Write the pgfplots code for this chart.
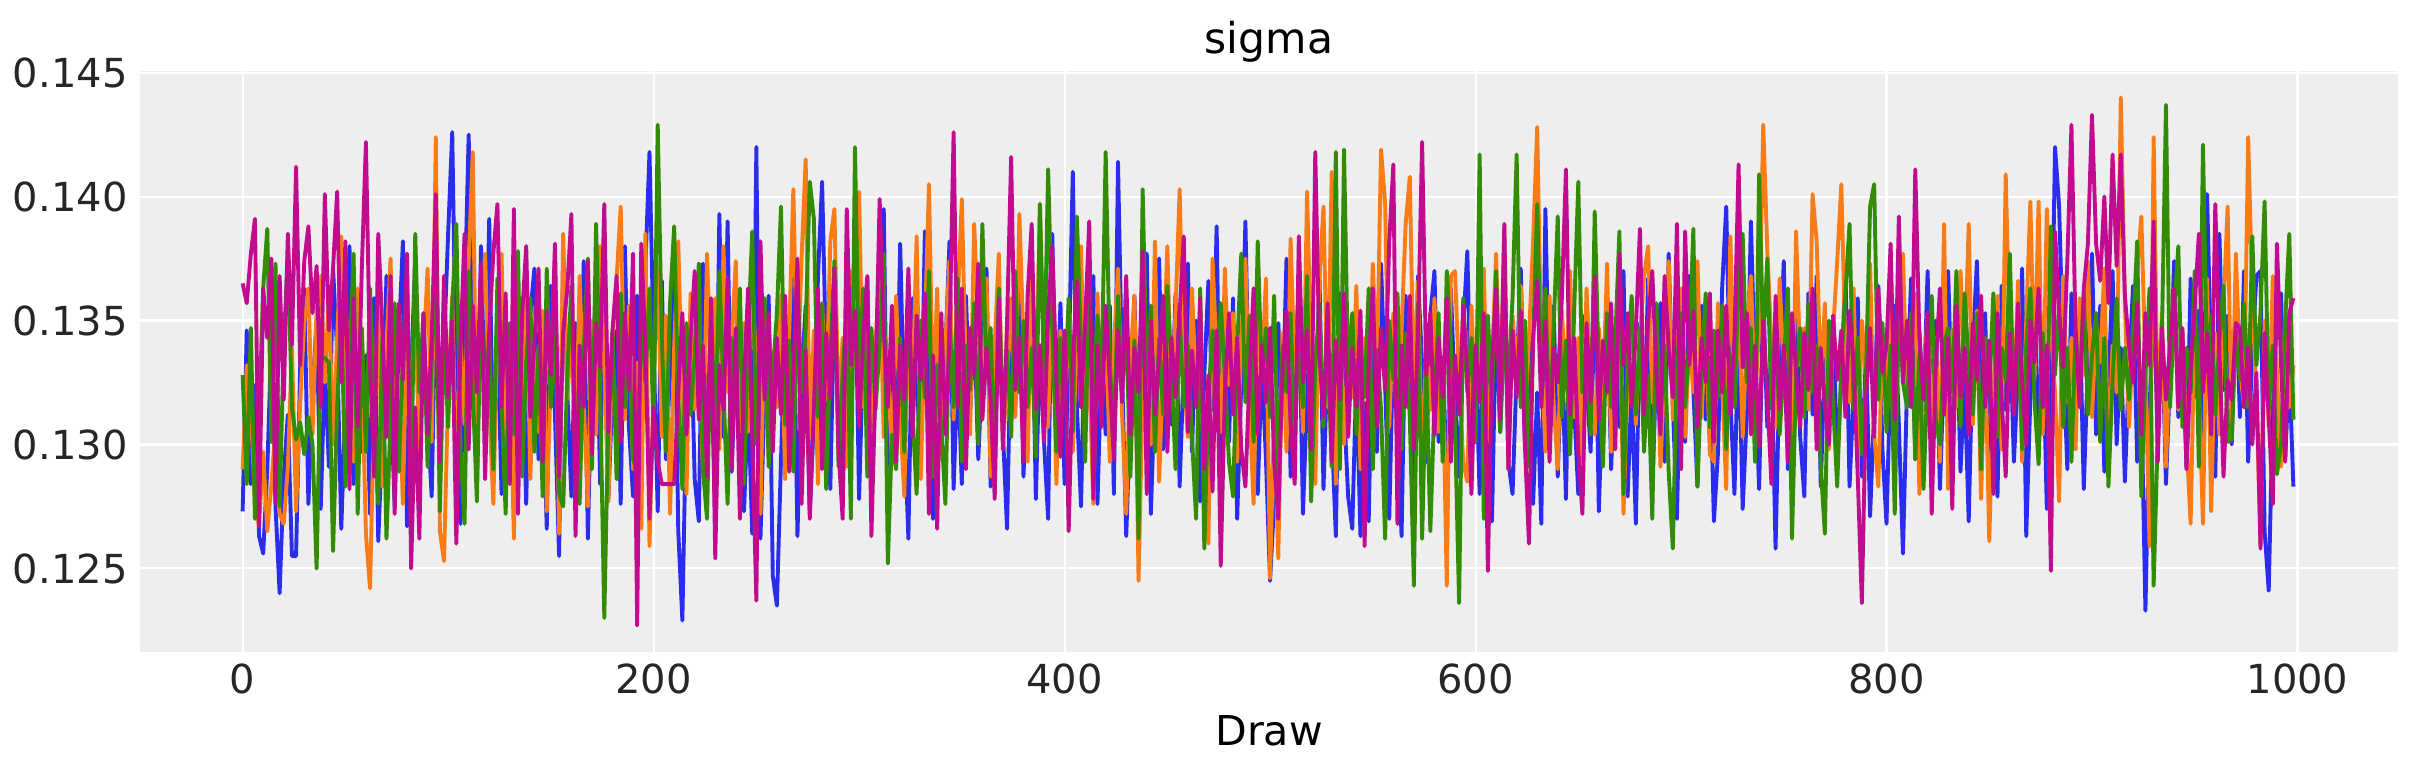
\documentclass[border=0pt]{standalone}
\usepackage{fontspec}
\setmainfont{DejaVu Sans}
\usepackage{pgfplots}
\usepackage{pgfplotstable}
\pgfplotsset{compat=1.18}
\definecolor{cB}{HTML}{2A2EEC}
\definecolor{cO}{HTML}{FA7C17}
\definecolor{cG}{HTML}{328C06}
\definecolor{cM}{HTML}{C10C90}
\definecolor{bg}{HTML}{EEEEEE}
\definecolor{tickc}{HTML}{262626}
% values in units of 0.0001, one per draw 0,2,4,...,998
\pgfplotstableread[header=false,row sep=\\]{%
1273\\1346\\1284\\1324\\1263\\1256\\1290\\1343\\1275\\1240\\%
1287\\1312\\1255\\1255\\1331\\1363\\1276\\1321\\1350\\1274\\%
1332\\1291\\1371\\1338\\1266\\1315\\1380\\1284\\1353\\1297\\%
1336\\1272\\1359\\1261\\1304\\1368\\1321\\1275\\1343\\1382\\%
1267\\1329\\1375\\1291\\1349\\1310\\1279\\1364\\1298\\1340\\%
1385\\1426\\1321\\1268\\1356\\1425\\1339\\1283\\1380\\1312\\%
1391\\1289\\1347\\1280\\1324\\1290\\1370\\1301\\1336\\1276\\%
1353\\1371\\1294\\1328\\1266\\1364\\1312\\1255\\1377\\1321\\%
1279\\1349\\1300\\1374\\1262\\1333\\1361\\1284\\1385\\1278\\%
1322\\1346\\1276\\1380\\1307\\1279\\1360\\1319\\1372\\1418\\%
1340\\1273\\1366\\1294\\1328\\1377\\1265\\1229\\1319\\1353\\%
1286\\1269\\1373\\1310\\1336\\1270\\1393\\1303\\1390\\1289\\%
1335\\1357\\1273\\1318\\1264\\1420\\1262\\1321\\1360\\1247\\%
1235\\1294\\1347\\1303\\1370\\1263\\1326\\1356\\1272\\1311\\%
1368\\1406\\1332\\1282\\1361\\1314\\1278\\1350\\1298\\1377\\%
1278\\1338\\1367\\1284\\1321\\1352\\1395\\1275\\1343\\1298\\%
1381\\1308\\1262\\1359\\1326\\1293\\1386\\1318\\1270\\1353\\%
1303\\1338\\1382\\1282\\1332\\1284\\1360\\1312\\1350\\1294\\%
1333\\1371\\1283\\1322\\1357\\1305\\1266\\1349\\1315\\1366\\%
1287\\1331\\1374\\1278\\1340\\1301\\1270\\1385\\1311\\1357\\%
1284\\1332\\1410\\1315\\1275\\1352\\1322\\1368\\1276\\1335\\%
1304\\1356\\1280\\1414\\1328\\1263\\1312\\1360\\1290\\1339\\%
1377\\1272\\1325\\1375\\1298\\1345\\1308\\1361\\1283\\1332\\%
1373\\1297\\1350\\1277\\1328\\1366\\1314\\1388\\1282\\1336\\%
1301\\1359\\1270\\1325\\1390\\1307\\1352\\1280\\1333\\1294\\%
1245\\1277\\1349\\1312\\1375\\1287\\1332\\1363\\1272\\1319\\%
1354\\1298\\1370\\1282\\1336\\1307\\1263\\1361\\1315\\1279\\%
1266\\1328\\1263\\1317\\1269\\1353\\1297\\1373\\1324\\1270\\%
1342\\1305\\1263\\1360\\1315\\1284\\1368\\1332\\1293\\1352\\%
1370\\1301\\1335\\1272\\1363\\1317\\1287\\1347\\1378\\1307\\%
1336\\1280\\1359\\1322\\1269\\1353\\1305\\1368\\1293\\1280\\%
1329\\1371\\1301\\1345\\1276\\1321\\1268\\1395\\1310\\1356\\%
1287\\1338\\1278\\1363\\1315\\1280\\1352\\1326\\1297\\1374\\%
1273\\1328\\1361\\1290\\1339\\1307\\1370\\1279\\1322\\1268\\%
1349\\1303\\1367\\1282\\1332\\1357\\1293\\1377\\1317\\1270\\%
1345\\1301\\1368\\1322\\1283\\1356\\1310\\1335\\1269\\1297\\%
1363\\1396\\1319\\1280\\1347\\1274\\1312\\1390\\1329\\1282\\%
1360\\1307\\1338\\1258\\1332\\1374\\1290\\1322\\1353\\1303\\%
1279\\1361\\1312\\1368\\1283\\1336\\1305\\1352\\1293\\1326\\%
1371\\1283\\1321\\1359\\1287\\1338\\1271\\1314\\1364\\1298\\%
1268\\1332\\1356\\1308\\1256\\1324\\1367\\1294\\1346\\1314\\%
1370\\1303\\1350\\1282\\1332\\1370\\1310\\1354\\1289\\1325\\%
1269\\1340\\1374\\1305\\1353\\1284\\1321\\1279\\1364\\1314\\%
1349\\1293\\1329\\1371\\1263\\1319\\1360\\1303\\1347\\1274\\%
1315\\1420\\1396\\1336\\1290\\1361\\1315\\1353\\1282\\1333\\%
1377\\1304\\1356\\1289\\1322\\1370\\1300\\1339\\1285\\1331\\%
1364\\1293\\1319\\1233\\1314\\1359\\1303\\1349\\1284\\1328\\%
1374\\1311\\1342\\1290\\1367\\1319\\1354\\1298\\1401\\1331\\%
1287\\1385\\1322\\1352\\1300\\1361\\1311\\1370\\1293\\1338\\%
1368\\1370\\1265\\1241\\1315\\1350\\1361\\1294\\1331\\1283\\%
}\tB
\pgfplotstableread[header=false,row sep=\\]{%
1290\\1332\\1315\\1276\\1267\\1297\\1265\\1284\\1307\\1272\\%
1268\\1291\\1339\\1273\\1317\\1349\\1363\\1304\\1354\\1368\\%
1325\\1360\\1300\\1343\\1384\\1312\\1350\\1293\\1363\\1332\\%
1264\\1242\\1315\\1359\\1283\\1340\\1375\\1296\\1328\\1276\\%
1353\\1307\\1368\\1289\\1336\\1371\\1301\\1424\\1265\\1253\\%
1321\\1360\\1284\\1343\\1308\\1374\\1418\\1291\\1352\\1377\\%
1315\\1276\\1347\\1377\\1297\\1336\\1262\\1359\\1312\\1371\\%
1286\\1339\\1305\\1354\\1273\\1328\\1377\\1264\\1385\\1318\\%
1347\\1293\\1368\\1317\\1275\\1350\\1304\\1380\\1331\\1277\\%
1343\\1367\\1396\\1310\\1356\\1290\\1333\\1266\\1385\\1259\\%
1326\\1371\\1303\\1352\\1272\\1339\\1382\\1315\\1280\\1361\\%
1314\\1346\\1287\\1377\\1325\\1359\\1298\\1380\\1321\\1342\\%
1374\\1284\\1349\\1305\\1368\\1329\\1272\\1353\\1294\\1338\\%
1315\\1360\\1286\\1345\\1403\\1325\\1375\\1415\\1303\\1346\\%
1284\\1357\\1318\\1382\\1395\\1310\\1343\\1291\\1370\\1331\\%
1402\\1315\\1352\\1290\\1339\\1373\\1303\\1333\\1292\\1360\\%
1312\\1279\\1350\\1321\\1384\\1286\\1346\\1405\\1315\\1363\\%
1294\\1340\\1374\\1310\\1357\\1399\\1328\\1304\\1389\\1347\\%
1317\\1367\\1287\\1340\\1377\\1301\\1325\\1359\\1311\\1393\\%
1342\\1293\\1371\\1322\\1397\\1333\\1307\\1364\\1284\\1346\\%
1318\\1354\\1297\\1343\\1380\\1307\\1331\\1276\\1361\\1314\\%
1350\\1293\\1339\\1371\\1312\\1272\\1333\\1360\\1245\\1321\\%
1347\\1300\\1382\\1285\\1332\\1380\\1315\\1354\\1403\\1328\\%
1303\\1363\\1321\\1346\\1284\\1260\\1375\\1336\\1305\\1371\\%
1324\\1353\\1293\\1342\\1375\\1315\\1276\\1352\\1328\\1367\\%
1246\\1312\\1254\\1345\\1297\\1383\\1329\\1359\\1305\\1402\\%
1336\\1284\\1367\\1396\\1315\\1410\\1284\\1349\\1300\\1340\\%
1319\\1364\\1290\\1343\\1312\\1373\\1328\\1419\\1397\\1307\\%
1353\\1297\\1346\\1389\\1408\\1321\\1366\\1287\\1340\\1314\\%
1359\\1305\\1332\\1243\\1368\\1370\\1325\\1293\\1285\\1356\\%
1312\\1345\\1371\\1301\\1333\\1377\\1318\\1388\\1290\\1352\\%
1328\\1364\\1307\\1343\\1382\\1428\\1338\\1297\\1360\\1317\\%
1290\\1354\\1322\\1370\\1311\\1343\\1293\\1363\\1326\\1304\\%
1347\\1315\\1373\\1297\\1338\\1360\\1272\\1328\\1353\\1308\\%
1343\\1368\\1380\\1317\\1349\\1291\\1331\\1374\\1310\\1336\\%
1363\\1303\\1342\\1321\\1374\\1311\\1350\\1296\\1293\\1357\\%
1325\\1282\\1384\\1315\\1360\\1303\\1343\\1368\\1319\\1346\\%
1429\\1378\\1340\\1307\\1367\\1328\\1359\\1293\\1386\\1332\\%
1347\\1314\\1401\\1382\\1325\\1357\\1298\\1345\\1374\\1405\\%
1338\\1317\\1363\\1291\\1350\\1328\\1373\\1304\\1283\\1343\\%
1321\\1359\\1298\\1340\\1377\\1315\\1336\\1361\\1280\\1326\\%
1353\\1307\\1343\\1293\\1389\\1282\\1346\\1315\\1370\\1331\\%
1389\\1308\\1354\\1278\\1339\\1261\\1321\\1360\\1298\\1409\\%
1342\\1315\\1366\\1293\\1350\\1398\\1326\\1398\\1304\\1395\\%
1347\\1321\\1277\\1368\\1317\\1343\\1298\\1359\\1328\\1374\\%
1311\\1349\\1333\\1371\\1290\\1340\\1321\\1440\\1357\\1307\\%
1343\\1370\\1392\\1332\\1259\\1424\\1308\\1353\\1291\\1340\\%
1363\\1314\\1346\\1301\\1268\\1352\\1322\\1268\\1367\\1273\\%
1345\\1304\\1356\\1396\\1302\\1377\\1331\\1315\\1424\\1360\\%
1318\\1260\\1350\\1307\\1368\\1329\\1291\\1353\\1315\\1332\\%
}\tO
\pgfplotstableread[header=false,row sep=\\]{%
1328\\1284\\1347\\1270\\1311\\1363\\1387\\1301\\1373\\1275\\%
1340\\1377\\1315\\1302\\1309\\1296\\1311\\1300\\1250\\1335\\%
1335\\1333\\1257\\1315\\1354\\1283\\1332\\1377\\1272\\1347\\%
1297\\1363\\1318\\1276\\1343\\1262\\1311\\1357\\1289\\1336\\%
1368\\1282\\1385\\1321\\1353\\1291\\1332\\1373\\1273\\1346\\%
1307\\1356\\1389\\1298\\1268\\1370\\1322\\1277\\1360\\1314\\%
1343\\1290\\1367\\1317\\1272\\1349\\1304\\1378\\1287\\1333\\%
1359\\1297\\1340\\1279\\1371\\1315\\1347\\1280\\1275\\1328\\%
1364\\1303\\1276\\1338\\1375\\1290\\1389\\1321\\1230\\1311\\%
1346\\1286\\1361\\1315\\1340\\1294\\1290\\1353\\1325\\1363\\%
1304\\1429\\1342\\1297\\1357\\1388\\1319\\1282\\1349\\1312\\%
1336\\1373\\1290\\1270\\1352\\1307\\1370\\1322\\1276\\1343\\%
1315\\1363\\1284\\1345\\1386\\1300\\1332\\1359\\1291\\1328\\%
1353\\1396\\1308\\1342\\1289\\1367\\1321\\1347\\1406\\1391\\%
1311\\1357\\1282\\1336\\1374\\1291\\1329\\1356\\1270\\1420\\%
1326\\1363\\1287\\1347\\1314\\1340\\1377\\1252\\1304\\1290\\%
1343\\1297\\1359\\1312\\1280\\1350\\1319\\1370\\1287\\1332\\%
1307\\1276\\1352\\1315\\1367\\1293\\1340\\1322\\1357\\1300\\%
1389\\1328\\1347\\1290\\1363\\1312\\1338\\1303\\1370\\1321\\%
1350\\1315\\1339\\1295\\1397\\1326\\1411\\1346\\1297\\1343\\%
1318\\1359\\1305\\1392\\1340\\1293\\1367\\1314\\1352\\1325\\%
1418\\1333\\1303\\1360\\1322\\1347\\1287\\1342\\1262\\1403\\%
1326\\1356\\1297\\1343\\1312\\1364\\1331\\1290\\1352\\1315\\%
1340\\1303\\1270\\1363\\1258\\1319\\1346\\1310\\1357\\1328\\%
1293\\1279\\1339\\1377\\1317\\1352\\1301\\1382\\1326\\1347\\%
1311\\1360\\1286\\1340\\1321\\1353\\1301\\1345\\1315\\1368\\%
1277\\1332\\1357\\1307\\1342\\1291\\1418\\1290\\1419\\1328\\%
1353\\1304\\1343\\1319\\1363\\1290\\1338\\1314\\1262\\1350\\%
1326\\1361\\1298\\1345\\1311\\1243\\1357\\1262\\1332\\1265\\%
1317\\1353\\1293\\1370\\1340\\1308\\1236\\1359\\1321\\1343\\%
1301\\1417\\1270\\1352\\1318\\1370\\1305\\1343\\1326\\1359\\%
1417\\1315\\1350\\1291\\1340\\1397\\1324\\1363\\1303\\1347\\%
1392\\1311\\1342\\1296\\1354\\1406\\1321\\1339\\1304\\1394\\%
1329\\1291\\1353\\1315\\1342\\1386\\1280\\1336\\1360\\1312\\%
1347\\1297\\1328\\1270\\1357\\1310\\1340\\1289\\1258\\1332\\%
1353\\1315\\1340\\1387\\1283\\1331\\1361\\1307\\1346\\1319\\%
1356\\1298\\1336\\1315\\1367\\1385\\1325\\1347\\1293\\1409\\%
1340\\1375\\1315\\1353\\1304\\1332\\1363\\1262\\1328\\1347\\%
1311\\1357\\1321\\1340\\1291\\1264\\1350\\1317\\1283\\1332\\%
1361\\1389\\1314\\1343\\1296\\1328\\1396\\1405\\1318\\1349\\%
1305\\1340\\1272\\1359\\1325\\1315\\1353\\1294\\1336\\1282\\%
1328\\1360\\1310\\1300\\1340\\1347\\1321\\1370\\1307\\1361\\%
1332\\1312\\1353\\1290\\1343\\1321\\1361\\1303\\1339\\1326\\%
1377\\1315\\1350\\1298\\1340\\1363\\1318\\1292\\1345\\1311\\%
1388\\1328\\1357\\1307\\1339\\1293\\1346\\1322\\1361\\1312\\%
1336\\1353\\1301\\1343\\1283\\1326\\1359\\1314\\1339\\1318\\%
1347\\1382\\1279\\1328\\1363\\1243\\1304\\1343\\1437\\1315\\%
1354\\1380\\1307\\1339\\1321\\1370\\1291\\1421\\1331\\1352\\%
1312\\1342\\1364\\1301\\1302\\1346\\1326\\1357\\1315\\1384\\%
1332\\1353\\1398\\1314\\1340\\1288\\1300\\1349\\1385\\1310\\%
}\tG
\pgfplotstableread[header=false,row sep=\\]{%
1365\\1357\\1377\\1391\\1267\\1363\\1343\\1375\\1276\\1368\\%
1318\\1385\\1340\\1412\\1332\\1374\\1388\\1353\\1372\\1315\\%
1401\\1346\\1371\\1402\\1325\\1382\\1282\\1359\\1307\\1371\\%
1422\\1332\\1287\\1385\\1347\\1303\\1368\\1272\\1357\\1326\\%
1377\\1250\\1315\\1262\\1353\\1304\\1343\\1401\\1293\\1368\\%
1319\\1350\\1260\\1339\\1385\\1298\\1356\\1321\\1373\\1286\\%
1346\\1377\\1397\\1315\\1361\\1284\\1395\\1272\\1352\\1380\\%
1311\\1342\\1371\\1293\\1354\\1328\\1381\\1287\\1345\\1363\\%
1393\\1263\\1340\\1315\\1374\\1296\\1349\\1331\\1397\\1305\\%
1346\\1368\\1301\\1353\\1322\\1377\\1227\\1381\\1339\\1270\\%
1315\\1293\\1284\\1284\\1284\\1284\\1321\\1353\\1304\\1343\\%
1370\\1310\\1340\\1287\\1359\\1254\\1332\\1314\\1367\\1290\\%
1347\\1270\\1326\\1363\\1303\\1237\\1382\\1318\\1353\\1297\\%
1343\\1312\\1360\\1289\\1328\\1375\\1276\\1338\\1270\\1315\\%
1363\\1290\\1345\\1319\\1371\\1297\\1270\\1395\\1332\\1354\\%
1307\\1343\\1368\\1263\\1325\\1399\\1346\\1315\\1356\\1293\\%
1340\\1318\\1371\\1303\\1352\\1326\\1361\\1272\\1336\\1266\\%
1353\\1304\\1343\\1426\\1315\\1363\\1290\\1347\\1328\\1373\\%
1310\\1339\\1318\\1278\\1359\\1298\\1349\\1416\\1322\\1343\\%
1293\\1360\\1389\\1314\\1340\\1301\\1353\\1380\\1326\\1295\\%
1346\\1265\\1333\\1366\\1315\\1349\\1390\\1278\\1340\\1307\\%
1356\\1325\\1294\\1346\\1317\\1368\\1304\\1339\\1321\\1378\\%
1280\\1350\\1312\\1335\\1360\\1297\\1343\\1319\\1353\\1384\\%
1305\\1338\\1315\\1359\\1290\\1328\\1281\\1346\\1251\\1321\\%
1353\\1312\\1343\\1298\\1283\\1328\\1363\\1304\\1340\\1317\\%
1347\\1293\\1270\\1329\\1354\\1308\\1284\\1384\\1325\\1346\\%
1298\\1418\\1336\\1311\\1357\\1293\\1342\\1318\\1361\\1303\\%
1339\\1315\\1354\\1259\\1332\\1363\\1307\\1347\\1322\\1382\\%
1413\\1268\\1340\\1315\\1360\\1298\\1345\\1422\\1328\\1353\\%
1304\\1343\\1319\\1359\\1293\\1336\\1312\\1356\\1329\\1280\\%
1340\\1317\\1353\\1249\\1332\\1363\\1310\\1389\\1290\\1346\\%
1319\\1354\\1300\\1260\\1343\\1366\\1315\\1350\\1293\\1339\\%
1325\\1359\\1411\\1312\\1343\\1297\\1272\\1349\\1317\\1368\\%
1310\\1342\\1321\\1357\\1298\\1377\\1332\\1353\\1315\\1346\\%
1387\\1312\\1350\\1370\\1329\\1304\\1368\\1339\\1319\\1389\\%
1290\\1386\\1332\\1354\\1307\\1343\\1325\\1361\\1301\\1346\\%
1321\\1356\\1312\\1343\\1413\\1331\\1353\\1304\\1340\\1299\\%
1350\\1319\\1284\\1360\\1314\\1340\\1293\\1353\\1329\\1307\\%
1345\\1322\\1363\\1298\\1339\\1315\\1300\\1352\\1326\\1346\\%
1311\\1354\\1333\\1287\\1236\\1318\\1347\\1303\\1363\\1329\\%
1340\\1381\\1310\\1392\\1325\\1350\\1315\\1411\\1343\\1318\\%
1353\\1272\\1332\\1363\\1312\\1343\\1274\\1356\\1319\\1339\\%
1304\\1349\\1326\\1360\\1315\\1342\\1280\\1353\\1319\\1287\\%
1345\\1312\\1357\\1325\\1300\\1350\\1333\\1363\\1315\\1340\\%
1249\\1386\\1353\\1331\\1374\\1429\\1346\\1315\\1363\\1381\\%
1433\\1381\\1366\\1400\\1357\\1417\\1372\\1417\\1360\\1340\\%
1325\\1357\\1304\\1353\\1332\\1390\\1293\\1347\\1318\\1340\\%
1363\\1315\\1347\\1290\\1331\\1356\\1385\\1321\\1345\\1304\\%
1397\\1338\\1287\\1326\\1318\\1349\\1347\\1315\\1339\\1300\\%
1329\\1258\\1345\\1311\\1276\\1381\\1332\\1293\\1353\\1359\\%
}\tM
\begin{document}
\begin{tikzpicture}
\begin{axis}[
  scale only axis,
  width=812.9pt, height=209.2pt,
  xmin=-49.95, xmax=1048.95,
  ymin=0.12163, ymax=0.14507,
  xtick={0,200,400,600,800,1000},
  ytick={0.125,0.130,0.135,0.140,0.145},
  axis background/.style={fill=bg},
  axis line style={draw=none},
  major tick length=0pt,
  tick style={draw=none},
  grid=major,
  major grid style={white, line width=0.75pt},
  /pgf/number format/assume math mode=true,
  scaled y ticks=false,
  scaled x ticks=false,
  xticklabel style={font=\fontsize{14.4}{17}\selectfont, text=tickc, anchor=north, inner sep=0pt, yshift=-3.9pt,
    /pgf/number format/1000 sep={}},
  yticklabel style={font=\fontsize{14.4}{17}\selectfont, text=tickc, anchor=east, inner sep=0pt, xshift=-4.3pt,
    /pgf/number format/fixed, /pgf/number format/fixed zerofill, /pgf/number format/precision=3},
  title={sigma},
  title style={font=\fontsize{15.3}{18}\selectfont, at={(axis description cs:0.5,1)}, anchor=base, yshift=0.1pt, inner sep=0pt},
  xlabel={Draw},
  xlabel style={font=\fontsize{14.8}{17}\selectfont, at={(axis description cs:0.5,0)}, anchor=base, yshift=-33.5pt, inner sep=0pt},
  every axis plot/.append style={line width=1.4pt, line join=round, mark=none},
]
\addplot[cB] table[x index=0, y index=0, x expr=2*\coordindex, y expr=\thisrowno{0}/10000] {\tB};
\addplot[cO] table[x index=0, y index=0, x expr=2*\coordindex, y expr=\thisrowno{0}/10000] {\tO};
\addplot[cG] table[x index=0, y index=0, x expr=2*\coordindex, y expr=\thisrowno{0}/10000] {\tG};
\addplot[cM] table[x index=0, y index=0, x expr=2*\coordindex, y expr=\thisrowno{0}/10000] {\tM};
\end{axis}
\pgfresetboundingbox
\useasboundingbox (-50.4pt,-43.56pt) rectangle (821.88pt,234.72pt);
\end{tikzpicture}
\end{document}
